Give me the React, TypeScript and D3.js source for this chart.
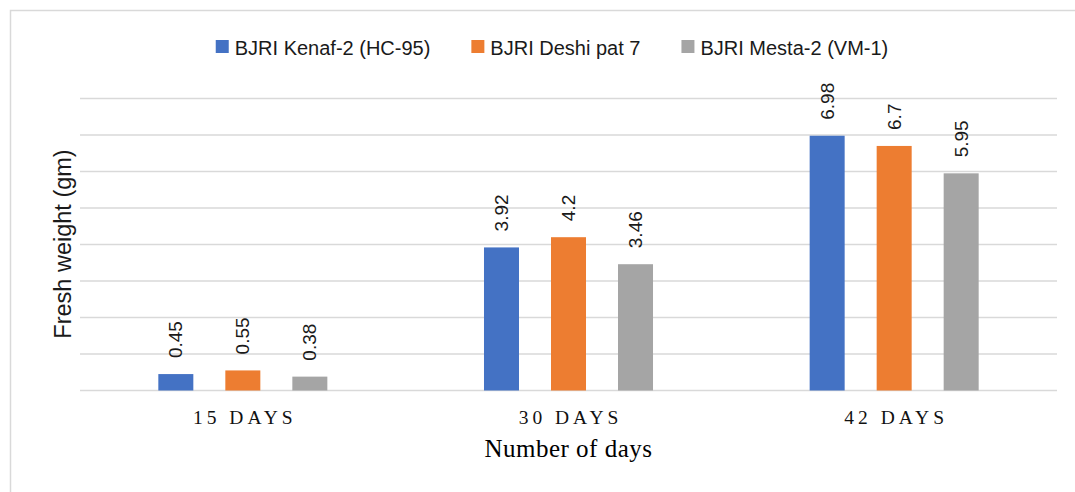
import { useEffect, useRef } from "react";
import * as d3 from "d3";

const categories = ["15 DAYS", "30 DAYS", "42 DAYS"];
const seriesNames = ["BJRI Kenaf-2 (HC-95)", "BJRI Deshi pat 7", "BJRI Mesta-2 (VM-1)"];
const seriesColors = ["#4472C4", "#ED7D31", "#A5A5A5"];
const kenafValues = [0.45, 3.92, 6.98];
const deshiValues = [0.55, 4.2, 6.7];
const mestaValues = [0.38, 3.46, 5.95];
const yMax = 8;
const xTitle = "Number of days";
const yTitle = "Fresh weight (gm)";

const sans = "'Liberation Sans', Arial, sans-serif";
const serif = "'Liberation Serif', 'Times New Roman', serif";

const App = () => {
  const svgRef = useRef<SVGSVGElement | null>(null);

  useEffect(() => {
    document.body.style.margin = "0";
    if (!svgRef.current) return;

    const width = 1075;
    const height = 492;
    const plot = { left: 80, right: 1057, top: 98.5, bottom: 390.5 };

    const svg = d3.select(svgRef.current);
    svg.selectAll("*").remove();
    svg.attr("width", width).attr("height", height).attr("viewBox", `0 0 ${width} ${height}`);

    svg
      .append("rect")
      .attr("x", 10.5)
      .attr("y", 10.5)
      .attr("width", 1090)
      .attr("height", 520)
      .attr("fill", "#fff")
      .attr("stroke", "#d9d9d9")
      .attr("stroke-width", 1.5);

    const series = [kenafValues, deshiValues, mestaValues];

    const x = d3.scaleBand<string>().domain(categories).range([plot.left, plot.right]);
    const band = x.bandwidth();
    const xSub = d3
      .scaleBand<string>()
      .domain(seriesNames)
      .range([-band * 0.2595, band * 0.2595])
      .paddingInner(32 / 67);

    const y = d3.scaleLinear().domain([0, yMax]).range([plot.bottom, plot.top]);

    // gridlines
    svg
      .append("g")
      .selectAll("line")
      .data(y.ticks(yMax))
      .join("line")
      .attr("x1", plot.left)
      .attr("x2", plot.right)
      .attr("y1", (d) => y(d))
      .attr("y2", (d) => y(d))
      .attr("stroke", "#d9d9d9")
      .attr("stroke-width", 1.5);

    // bars + labels
    seriesNames.forEach((name, si) => {
      const g = svg.append("g");
      const rows = categories.map((c, i) => ({ c, v: series[si][i] }));
      g.selectAll("rect")
        .data(rows)
        .join("rect")
        .attr("x", (d) => (x(d.c) ?? 0) + band / 2 + (xSub(name) ?? 0))
        .attr("y", (d) => y(d.v))
        .attr("width", xSub.bandwidth())
        .attr("height", (d) => y(0) - y(d.v))
        .attr("fill", seriesColors[si]);

      g.selectAll("text")
        .data(rows)
        .join("text")
        .attr("transform", (d) => {
          const cx = (x(d.c) ?? 0) + band / 2 + (xSub(name) ?? 0) + xSub.bandwidth() / 2;
          return `translate(${cx},${y(d.v) - 16}) rotate(-90)`;
        })
        .attr("dy", "0.35em")
        .attr("font-family", sans)
        .attr("font-size", 19)
        .attr("fill", "#1a1a1a")
        .text((d) => String(d.v));
    });

    // category labels
    svg
      .append("g")
      .selectAll("text")
      .data(categories)
      .join("text")
      .attr("x", (d) => (x(d) ?? 0) + band / 2 + 2)
      .attr("y", 424)
      .attr("text-anchor", "middle")
      .attr("font-family", serif)
      .attr("font-size", 19.5)
      .attr("letter-spacing", 4)
      .attr("fill", "#111")
      .text((d) => d);

    // axis titles
    svg
      .append("text")
      .attr("x", (plot.left + plot.right) / 2)
      .attr("y", 457)
      .attr("text-anchor", "middle")
      .attr("font-family", serif)
      .attr("font-size", 25)
      .attr("letter-spacing", 0.5)
      .attr("fill", "#000")
      .text(xTitle);

    svg
      .append("text")
      .attr("transform", `translate(62.5,244) rotate(-90)`)
      .attr("text-anchor", "middle")
      .attr("dy", "0.35em")
      .attr("font-family", sans)
      .attr("font-size", 23.5)
      .attr("fill", "#1a1a1a")
      .text(yTitle);

    // legend
    const legend = svg.append("g");
    const sq = 13;
    const gap = 6;
    const spacing = 41;
    const items = seriesNames.map((name, i) => {
      const t = legend
        .append("text")
        .attr("font-family", sans)
        .attr("font-size", 20)
        .attr("fill", "#1a1a1a")
        .attr("y", 55)
        .text(name);
      const w = (t.node() as SVGTextElement).getComputedTextLength();
      return { t, w, color: seriesColors[i] };
    });
    const total = items.reduce((s, it) => s + sq + gap + it.w, 0) + spacing * (items.length - 1);
    let cursor = 552 - total / 2;
    items.forEach((it) => {
      legend
        .append("rect")
        .attr("x", cursor)
        .attr("y", 40)
        .attr("width", sq)
        .attr("height", sq)
        .attr("fill", it.color);
      it.t.attr("x", cursor + sq + gap);
      cursor += sq + gap + it.w + spacing;
    });
  }, []);

  return <svg ref={svgRef} style={{ display: "block" }} />;
};

export default App;
